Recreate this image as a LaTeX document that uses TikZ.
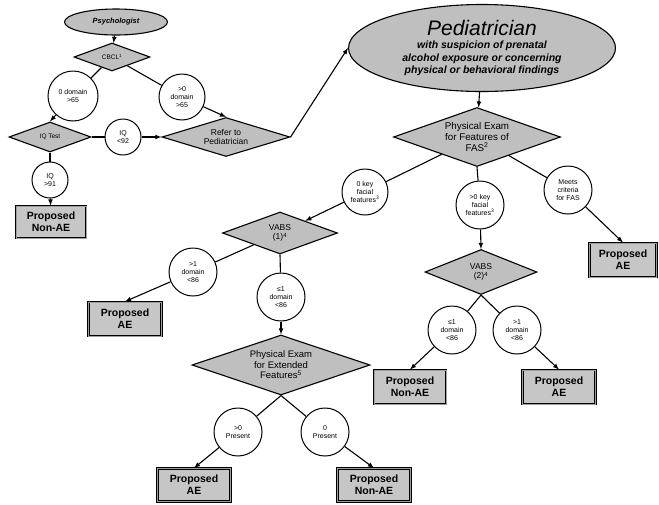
\documentclass[tikz,border=0pt]{standalone}
\usepackage{fontspec}
\setmainfont{Liberation Sans}
\usepackage{tikz}
\usetikzlibrary{shapes.geometric,arrows}

\tikzset{
  line/.style = {line width=1.1pt, >=latex},
  startnode/.style = {ellipse, draw, line width=1.1pt, fill=gray!50, inner sep=0pt},
  decision/.style = {diamond, draw, line width=1.1pt, fill=gray!50, inner sep=0pt,
    align=center, font=\fontsize{8.5}{9.5}\selectfont},
  choice/.style = {circle, draw, line width=1pt, fill=white, inner sep=0pt,
    align=center, font=\fontsize{7}{8}\selectfont},
  outcome/.style = {rectangle, draw, line width=0.9pt, double=gray!75, double distance=0.7pt,
    fill=gray!45, minimum width=70pt, minimum height=32pt, inner sep=0pt,
    align=center, font=\bfseries\fontsize{10.5}{12}\selectfont}
}

\begin{document}
\begin{tikzpicture}[x=1pt, y=-1pt]
  \useasboundingbox (0,0) rectangle (659,504);
  \node[startnode, minimum width=103pt, minimum height=26pt,
    font=\bfseries\itshape\fontsize{7.5}{9}\selectfont] (psy) at (116,22) {Psychologist};
  \node[decision, minimum width=76pt, minimum height=28pt, shape aspect=2.7,
    font=\fontsize{6.5}{7.5}\selectfont] (cbcl) at (112,57) {CBCL\textsuperscript{1}};
  \node[choice, minimum size=50pt] (a) at (73,96) {0 domain\\>65};
  \node[choice, minimum size=46pt] (b) at (182,97) {>0\\domain\\>65};
  \node[decision, minimum width=82pt, minimum height=30pt, shape aspect=2.7,
    font=\fontsize{6.5}{7.5}\selectfont] (iq) at (50,137) {IQ Test};
  \node[choice, minimum size=36pt] (c) at (123,137) {IQ\\<92};
  \node[decision, minimum width=128pt, minimum height=39pt, shape aspect=3.3] (refer) at (226,137) {Refer to\\Pediatrician};
  \node[choice, minimum size=36pt] (d) at (50,180) {IQ\\>91};
  \node[outcome] (o1) at (51,222) {Proposed\\Non-AE};

  \node[startnode, minimum width=267pt, minimum height=87pt, align=center,
    font=\bfseries\itshape\fontsize{10.5}{12.5}\selectfont] (ped) at (482,48)
    {{\mdseries\fontsize{21}{23}\selectfont Pediatrician}\\[1pt]
     with suspicion of prenatal\\alcohol exposure or concerning\\physical or behavioral findings};
  \node[decision, minimum width=167pt, minimum height=59pt, shape aspect=2.83,
    font=\fontsize{9.8}{10.8}\selectfont] (fas) at (477,137)
    {Physical Exam\\for Features of\\FAS\textsuperscript{2}};
  \node[choice, minimum size=46pt] (e) at (365,192) {0 key\\facial\\features\textsuperscript{3}};
  \node[choice, minimum size=48pt] (f) at (480,205) {>0 key\\facial\\features\textsuperscript{3}};
  \node[choice, minimum size=48pt] (g) at (568,190) {Meets\\criteria\\for FAS};
  \node[outcome, minimum width=67pt, minimum height=34pt] (o2) at (623,260) {Proposed\\AE};

  \node[decision, minimum width=115pt, minimum height=42pt, shape aspect=2.8] (v1) at (280,233)
    {VABS\\(1)\textsuperscript{4}};
  \node[choice, minimum size=48pt] (h) at (193,272) {>1\\domain\\<86};
  \node[choice, minimum size=48pt] (i) at (281,297) {≤1\\domain\\<86};
  \node[outcome, minimum width=73pt, minimum height=34pt] (o3) at (125,319) {Proposed\\AE};
  \node[decision, minimum width=178pt, minimum height=60pt, shape aspect=2.97,
    font=\fontsize{9.5}{10.5}\selectfont] (ext) at (281,365)
    {Physical Exam\\for Extended\\Features\textsuperscript{5}};
  \node[choice, minimum size=48pt] (j) at (238,432) {>0\\Present};
  \node[choice, minimum size=48pt] (k) at (325,432) {0\\Present};
  \node[outcome, minimum width=73pt, minimum height=33pt] (o4) at (194,485) {Proposed\\AE};
  \node[outcome, minimum width=73pt, minimum height=33pt] (o5) at (374,485) {Proposed\\Non-AE};

  \node[decision, minimum width=112pt, minimum height=45pt, shape aspect=2.6] (v2) at (481,272)
    {VABS\\(2)\textsuperscript{4}};
  \node[choice, minimum size=48pt] (l) at (452,330) {≤1\\domain\\<86};
  \node[choice, minimum size=48pt] (m) at (517,330) {>1\\domain\\<86};
  \node[outcome, minimum width=72pt, minimum height=34pt] (o6) at (410,387) {Proposed\\Non-AE};
  \node[outcome, minimum width=73pt, minimum height=34pt] (o7) at (559,387) {Proposed\\AE};

  \draw[line,->] (psy) -- (cbcl);
  \draw[line] (cbcl) -- (a);
  \draw[line,->] (a) -- (iq.north);
  \draw[line] (cbcl) -- (b);
  \draw[line,->] (b) -- (refer.north);
  \draw[line] (iq.east) -- (c);
  \draw[line,->] (c) -- (refer.west);
  \draw[line] (iq.south) -- (d);
  \draw[line,->] (d) -- (o1);
  \draw[line,->] (refer.east) -- (ped.west);
  \draw[line,->] (ped) -- (fas);
  \draw[line] (fas) -- (e);
  \draw[line,->] (e) -- (v1);
  \draw[line] (fas.south) -- (f);
  \draw[line,->] (f) -- (v2.north);
  \draw[line] (fas) -- (g);
  \draw[line,->] (g) -- (o2.north);
  \draw[line] (v1) -- (h);
  \draw[line,->] (h) -- (o3.north);
  \draw[line] (v1.south) -- (i);
  \draw[line,->] (i) -- (ext.north);
  \draw[line] (ext.south) -- (j);
  \draw[line] (ext.south) -- (k);
  \draw[line,->] (j) -- (o4.north);
  \draw[line,->] (k) -- (o5.north);
  \draw[line] (v2.south) -- (l);
  \draw[line] (v2.south) -- (m);
  \draw[line,->] (l) -- (o6.north);
  \draw[line,->] (m) -- (o7.north);
\end{tikzpicture}
\end{document}
